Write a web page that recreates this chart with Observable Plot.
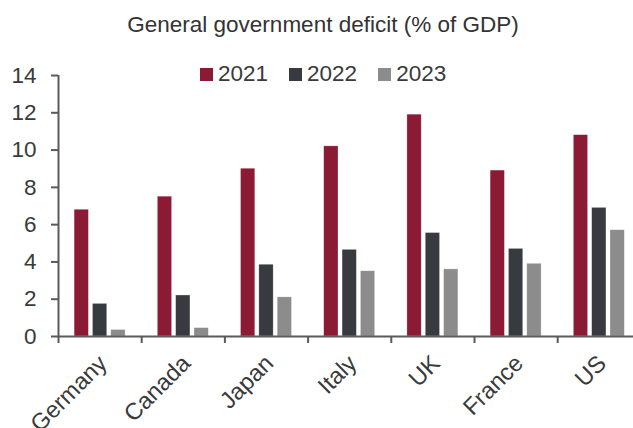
<!DOCTYPE html>
<html>
<head>
<meta charset="utf-8">
<script src="https://cdn.jsdelivr.net/npm/d3@7"></script>
<script src="https://cdn.jsdelivr.net/npm/@observablehq/plot@0.6"></script>
<style>
  html, body { margin: 0; padding: 0; background: #fff; overflow: hidden; }
  #wrap { position: relative; width: 633px; height: 428px; font-family: "Liberation Sans", Arial, sans-serif; }
  #title { position: absolute; left: 0; top: 0; width: 633px; height: 50px; text-align: center; font-size: 22.5px; color: #333; line-height: 50px; padding-left: 13px; box-sizing: border-box; }
  #chart { position: absolute; left: 0; top: 50px; }
  #legend { position: absolute; top: 61px; left: 200px; display: flex; align-items: center; font-size: 22.5px; color: #3a3a3a; }
  .item { display: flex; align-items: center; margin-right: 21px; }
  .sw { width: 13px; height: 13px; margin-right: 5px; }
</style>
</head>
<body>
<div id="wrap">
  <div id="title">General government deficit (% of GDP)</div>
  <div id="chart"></div>
  <div id="legend"></div>
</div>
<script>
const countries = ["Germany", "Canada", "Japan", "Italy", "UK", "France", "US"];
const years = ["2021", "2022", "2023"];
const v2021 = [6.8, 7.5, 9.0, 10.2, 11.9, 8.9, 10.8];
const v2022 = [1.75, 2.2, 3.85, 4.65, 5.55, 4.7, 6.9];
const v2023 = [0.35, 0.45, 2.1, 3.5, 3.6, 3.9, 5.7];
const colors = ["#8b1a35", "#373a3e", "#8c8c8c"];
const yTicks = [0, 2, 4, 6, 8, 10, 12, 14];

const series = [v2021, v2022, v2023];
const data = [];
countries.forEach((c, i) => {
  years.forEach((y, j) => {
    data.push({country: c, year: y, value: series[j][i], i, j});
  });
});

const barW = 0.172, barStep = 0.2205;
const x1 = d => d.i + 0.5 + (d.j - 1) * barStep - barW / 2;
const x2 = d => x1(d) + barW;

const axisColor = "#5a5a5a";
const plot = Plot.plot({
  width: 633,
  height: 378,
  marginLeft: 58,
  marginRight: 0,
  marginTop: 25,
  marginBottom: 92,
  style: {fontFamily: "Liberation Sans, Arial, sans-serif", fontSize: "22px", color: "#3a3a3a", background: "transparent"},
  x: {type: "linear", domain: [0, 6.911], axis: null},
  y: {domain: [0, 14], axis: null},
  color: {domain: years, range: colors},
  marks: [
    Plot.rectY(data, {x1, x2, y1: 0, y2: "value", fill: "year", stroke: "#ffffff", strokeOpacity: 0.5, strokeWidth: 0.6}),
    Plot.ruleY([0], {stroke: axisColor, strokeWidth: 2}),
    Plot.ruleX([0], {y1: 0, y2: d3.max(yTicks), stroke: axisColor, strokeWidth: 2}),
    Plot.axisY({ticks: yTicks, label: null, tickSize: 7, tickPadding: 15, stroke: axisColor, strokeWidth: 2, fontSize: 22.5, fill: "#3a3a3a"}),
    Plot.axisX({ticks: d3.range(countries.length), label: null, tickSize: 7, tickFormat: () => "", stroke: axisColor, strokeWidth: 2}),
    Plot.text(countries, {x: (d, i) => i + 0.5, y: 0, text: d => d, rotate: -45, textAnchor: "end", dx: 3, dy: 23, fontSize: 23.5, fill: "#3a3a3a"})
  ]
});
document.getElementById("chart").appendChild(plot);

const legend = document.getElementById("legend");
years.forEach((y, j) => {
  const it = document.createElement("div");
  it.className = "item";
  const sw = document.createElement("div");
  sw.className = "sw";
  sw.style.background = colors[j];
  const t = document.createElement("span");
  t.textContent = y;
  it.appendChild(sw);
  it.appendChild(t);
  legend.appendChild(it);
});
</script>
</body>
</html>
